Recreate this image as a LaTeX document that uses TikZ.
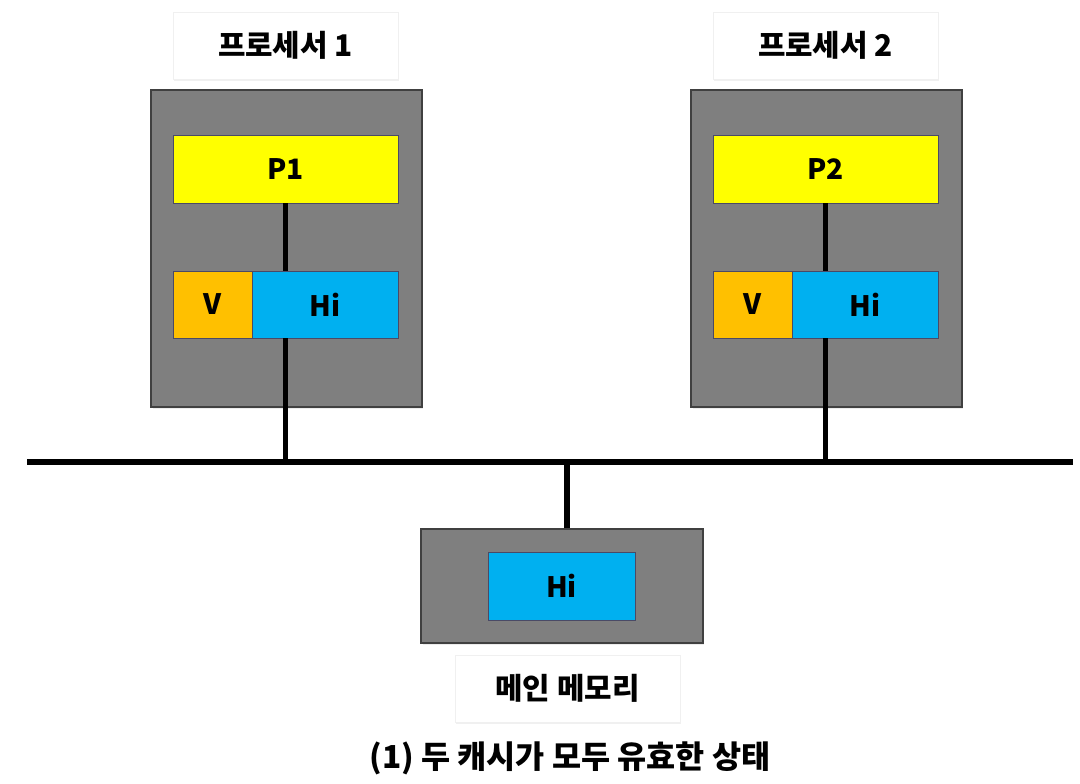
\documentclass[tikz,border=0pt]{standalone}
\usepackage{fontspec}
\setmainfont{Noto Sans CJK KR}
\usetikzlibrary{shadows}

\definecolor{boxgray}{HTML}{7F7F7F}
\definecolor{pyellow}{HTML}{FFFF00}
\definecolor{vorange}{HTML}{FFC000}
\definecolor{hiblue}{HTML}{00B0F0}
\definecolor{edge}{HTML}{4A4A66}

\tikzset{
  lab/.style={fill=white, draw=black!6, minimum width=4.5cm, minimum height=1.34cm,
    drop shadow={opacity=.12, shadow xshift=.02cm, shadow yshift=-.04cm},
    font=\bfseries\fontsize{17}{20}\selectfont},
  unit/.style={fill=boxgray, draw=black!75, line width=.7pt,
    drop shadow={opacity=.15, shadow xshift=.03cm, shadow yshift=-.04cm}},
  cell/.style={draw=edge, line width=.4pt, inner sep=0pt,
    font=\bfseries\fontsize{16}{19}\selectfont},
  wire/.style={line width=3pt, black}
}

\begin{document}
\begin{tikzpicture}[x=0.02cm, y=-0.02cm]
  \useasboundingbox (0,0) rectangle (1080,784);

  % processors
  \foreach \i/\dx in {1/0, 2/540} {
    \node[unit, minimum width=5.42cm, minimum height=6.34cm] (cpu\i) at (286.5+\dx,248.5) {};
    \node[lab] (name\i) at (285.5+\dx,45.5) {프로세서 \i};
    \node[cell, fill=pyellow, minimum width=4.5cm, minimum height=1.36cm] (P\i) at (285.5+\dx,169) {P\i};
    \node[cell, fill=vorange, minimum width=1.58cm, minimum height=1.34cm] (V\i) at (212.5+\dx,304.5) {V};
    \node[cell, fill=hiblue, minimum width=2.92cm, minimum height=1.34cm] (Hi\i) at (325+\dx,304.5) {Hi};
  }

  % main memory
  \node[unit, minimum width=5.64cm, minimum height=2.28cm] (mem) at (562,586) {};
  \node[cell, fill=hiblue, minimum width=2.94cm, minimum height=1.36cm] (memHi) at (561.5,586) {Hi};
  \node[lab] (memname) at (567.5,688.5) {메인 메모리};

  % bus
  \coordinate (busL) at (27,462);
  \coordinate (busR) at (1073,462);
  \coordinate (tap) at (567,462);
  \draw[wire] (busL) -- (busR);
  \foreach \i in {1,2} {
    \draw[wire] (P\i.south) -- (P\i.south |- Hi\i.north);
    \draw[wire] (P\i.south |- Hi\i.south) -- (P\i.south |- busL);
  }
  \draw[wire] (tap |- mem.north) -- (tap);

  \node[font=\bfseries\fontsize{18}{21}\selectfont] (caption) at (570,758) {(1) 두 캐시가 모두 유효한 상태};
\end{tikzpicture}
\end{document}
